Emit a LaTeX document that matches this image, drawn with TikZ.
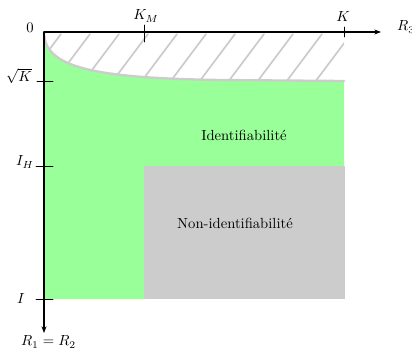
\documentclass[tikz,border=0pt]{standalone}
\usepackage{amsmath,amssymb}
\usetikzlibrary{arrows.meta}
\usepackage{xcolor}
\begin{document}
\begin{tikzpicture}[x=0.024cm,y=-0.024cm,>={Stealth[length=1.6mm]},line cap=round]
\useasboundingbox (0,0) rectangle (412,351);
\coordinate (O) at (44,32);
\coordinate (xend) at (381,32);
\coordinate (yend) at (44,333);
% regions
\fill[green!40] (O) .. controls (44,68) and (95,78) .. (220,80) -- (344,81) -- (344,166) -- (144,166) -- (144,299) -- (44,299) -- cycle;
\fill[gray!40] (144,166) rectangle (345,299);
\begin{scope}
\clip (O) .. controls (44,68) and (95,78) .. (220,80) -- (344,81) -- (344,33.5) -- (44,33.5) -- cycle;
\foreach \xt in {32,61,...,351}
  \draw[gray!40,line width=1.2pt] (\xt,34) -- ++(-60,80);
\end{scope}
\draw[gray!40,line width=1.6pt] (O) .. controls (44,68) and (95,78) .. (220,80) -- (344,81);
% axes
\draw[->,line width=0.8pt] (O) -- (xend);
\draw[->,line width=0.8pt] (O) -- (yend);
\draw[line width=0.6pt] (144,25) -- (144,42);
\draw[line width=0.6pt] (344,27) -- (344,37);
\draw[line width=0.6pt] (37,81) -- (53,81);
\draw[line width=0.6pt] (36,166) -- (53,166);
\draw[line width=0.6pt] (36,299) -- (53,299);
% labels
\node (zero) at (30,28) {$0$};
\node (km) at (146,16) {$K_M$};
\node (k) at (343,16) {$K$};
\node[anchor=west] (r3) at (392,27) {$R_3$};
\node (sqk) at (19,76) {$\sqrt{K}$};
\node (ih) at (25,162) {$I_H$};
\node (i) at (21,298) {$I$};
\node (r12) at (48.5,342) {$R_1 = R_2$};
\node (ident) at (244,135) {Identifiabilité};
\node (nonident) at (235,223) {Non-identifiabilité};
\end{tikzpicture}
\end{document}
